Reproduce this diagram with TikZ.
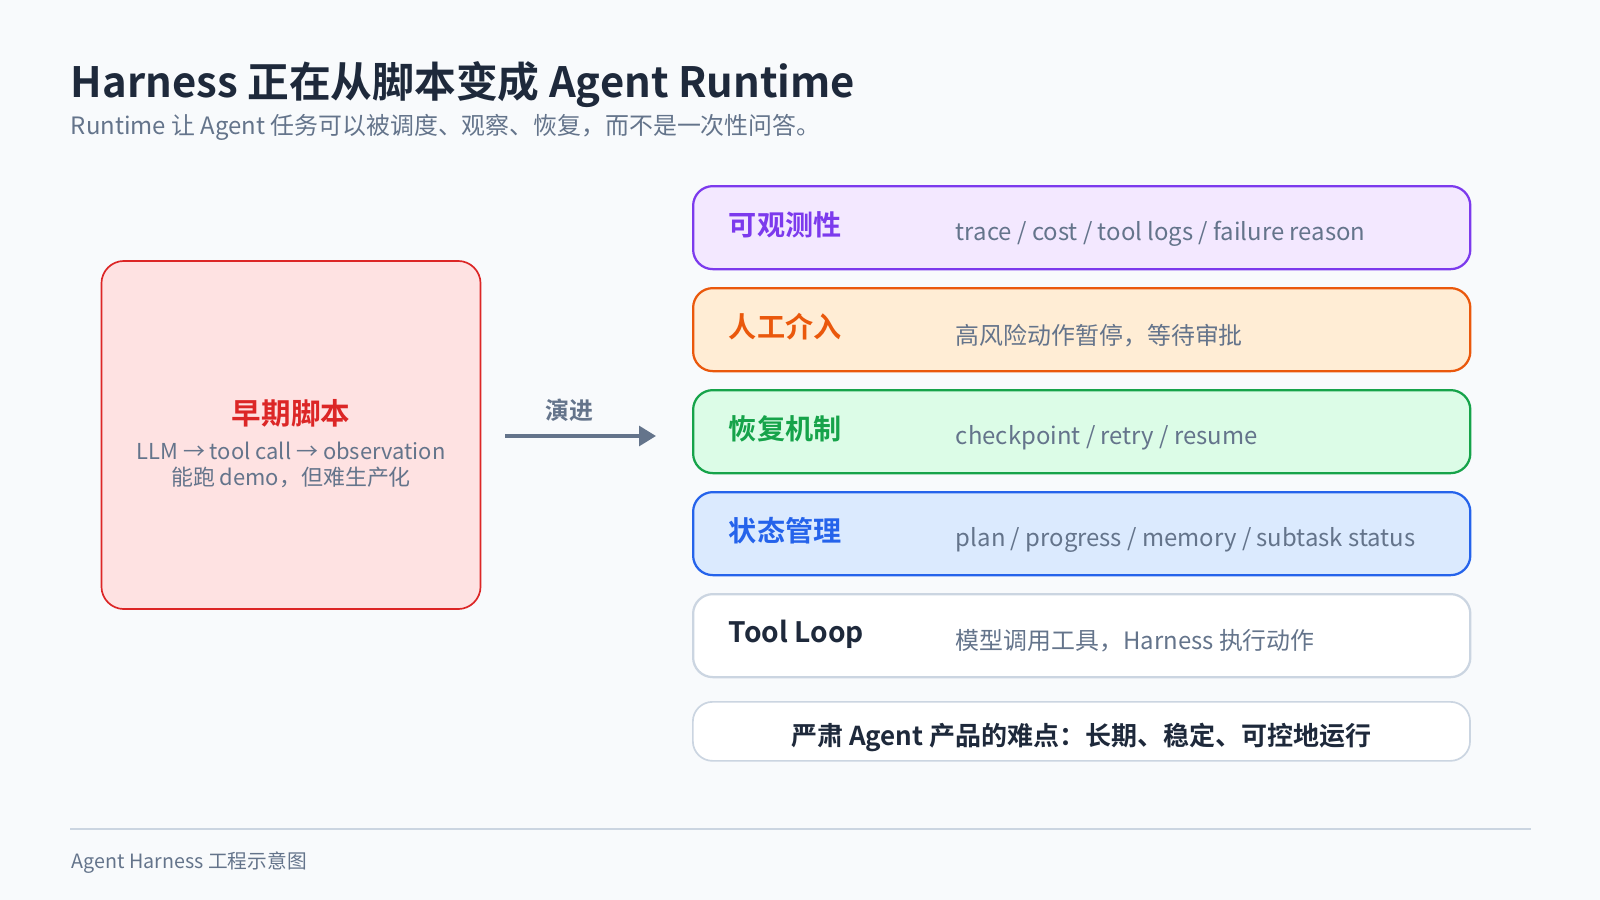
\documentclass[tikz,border=0pt]{standalone}
\usepackage{fontspec}
\setmainfont{Noto Sans CJK SC}[BoldFont={Noto Sans CJK SC Bold}]
\usetikzlibrary{positioning,arrows.meta}
\definecolor{bgc}{HTML}{F8FAFC}
\definecolor{ink}{HTML}{1E293B}
\definecolor{mute}{HTML}{64748B}
\definecolor{rule}{HTML}{CBD5E1}
\definecolor{redc}{HTML}{DC2626}\definecolor{redf}{HTML}{FEE2E2}
\definecolor{purc}{HTML}{7C3AED}\definecolor{purf}{HTML}{F3E8FF}
\definecolor{orac}{HTML}{EA580C}\definecolor{oraf}{HTML}{FFEDD5}
\definecolor{grec}{HTML}{16A34A}\definecolor{gref}{HTML}{DCFCE7}
\definecolor{bluc}{HTML}{2563EB}\definecolor{bluf}{HTML}{DBEAFE}
\definecolor{gryc}{HTML}{CBD5E1}\definecolor{gryf}{HTML}{FFFFFF}
\tikzset{
  layer/.style={draw=#1c, fill=#1f, line width=1.6pt, rounded corners=14pt,
    minimum width=19.425cm, minimum height=2.075cm, anchor=north west},
  tag/.style={anchor=west, font=\fontsize{20}{24}\selectfont\bfseries},
  desc/.style={anchor=west, text=mute, font=\fontsize{17}{20}\selectfont},
}
\begin{document}
\begin{tikzpicture}[x=0.025cm,y=-0.025cm]
   \fill[bgc] (0,0) rectangle (1600,900);
   \useasboundingbox (0,0) rectangle (1600,900);
   % title
   \node[anchor=west, text=ink, font=\fontsize{29.7}{34}\selectfont\bfseries] (title) at (66,85) {Harness 正在从脚本变成 Agent Runtime};
   \node[anchor=west, text=mute, font=\fontsize{17}{20}\selectfont] (sub) at (66,127) {Runtime 让 Agent 任务可以被调度、观察、恢复，而不是一次性问答。};
   % early script
   \node[draw=redc, fill=redf, line width=1.2pt, rounded corners=16pt, minimum width=9.475cm, minimum height=8.7cm] (early) at (291,435) {};
   \node[text=redc, font=\fontsize{21}{25}\selectfont\bfseries] (earlyt) at (291,413) {早期脚本};
   \node[text=mute, font=\fontsize{15.6}{18}\selectfont, align=center] (earlyd) at (291,465) {LLM → tool call → observation\\能跑 demo，但难生产化};
   % evolve arrow
   \coordinate (a0) at (505,436);
   \coordinate (a1) at (656,436);
   \draw[mute, line width=2.5pt, -{Triangle[length=12pt,width=14pt]}] (a0) -- (a1);
   \node[text=mute, font=\fontsize{17}{20}\selectfont\bfseries] (evo) at (569,410) {演进};
   % layers
   \foreach \y/\c/\t/\d in {185/pur/可观测性/{trace / cost / tool logs / failure reason},
                            287/ora/人工介入/{高风险动作暂停，等待审批},
                            389/gre/恢复机制/{checkpoint / retry / resume},
                            491/blu/状态管理/{plan / progress / memory / subtask status}}{
     \node[layer=\c] (L\c) at (692,\y) {};
     \node[tag, text=\c c] at (724,\y+40) {\t};
     \node[desc] at (951,\y+49) {\d};
   }
   \node[layer=gry] (loop) at (692,593) {};
   \node[tag, text=ink] (loopt) at (724,634) {Tool Loop};
   \node[desc] (loopd) at (951,641) {模型调用工具，Harness 执行动作};
   \node[draw=rule, fill=white, line width=1.2pt, rounded corners=14pt, minimum width=19.425cm, minimum height=1.475cm, anchor=north west] (note) at (692,701) {};
   \node[text=ink, font=\fontsize{18.5}{22}\selectfont\bfseries] (notet) at ([yshift=-4pt]note.center) {严肃 Agent 产品的难点：长期、稳定、可控地运行};
   % footer
   \draw[rule, line width=1.2pt] (70,829) -- (1531,829);
   \node[anchor=west, text=mute, font=\fontsize{14}{17}\selectfont] (foot) at (67,863) {Agent Harness 工程示意图};
\end{tikzpicture}
\end{document}
